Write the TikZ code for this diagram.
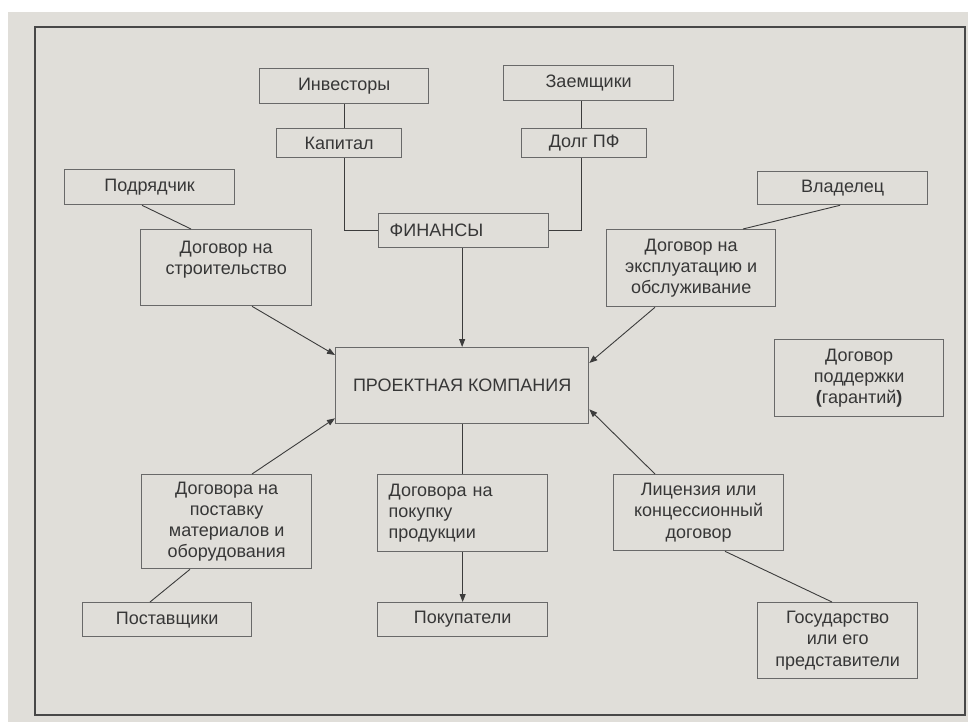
\documentclass[tikz,border=0pt]{standalone}
\usepackage{fontspec}
\setmainfont{Liberation Sans}
\usetikzlibrary{arrows.meta,positioning,calc}
\definecolor{panel}{RGB}{224,222,217}
\definecolor{framecol}{RGB}{72,72,72}
\definecolor{boxline}{RGB}{105,105,105}
\definecolor{inkcol}{RGB}{55,55,55}
\definecolor{wirecol}{RGB}{60,60,60}
\tikzset{
  every node/.style={font=\fontsize{18}{21.3}\selectfont, text=inkcol},
  box/.style={draw=boxline, line width=1.3pt, rectangle, anchor=north west, inner sep=0pt, align=center},
  leftbox/.style={box, align=left, inner xsep=11pt},
  txt/.style={inner sep=0pt, align=center},
  wire/.style={draw=wirecol, line width=0.9pt},
  arr/.style={wire, -{Triangle[length=8pt,width=6pt]}},
}
\newcommand{\bx}[6][box]{% style, name, x, y, w, h, text
  \node[#1, minimum width=#5pt, minimum height=#6pt] (#2) at (#3,#4)}
\begin{document}
\begin{tikzpicture}[x=1pt,y=-1pt]
  \useasboundingbox (0,0) rectangle (968,722);
  \fill[white] (0,0) rectangle (968,722);
  \fill[panel] (8,12) rectangle (968,722);
  \draw[framecol, line width=2.4pt] (35,27) rectangle (965,715);

  % financing side
  \bx{inv}{259}{68}{169}{35} {Инвесторы};
  \bx{kap}{276}{128}{125}{29} {Капитал};
  \bx{zaem}{503}{65}{170}{35} {Заемщики};
  \bx{dolg}{521}{128}{125}{29} {Долг ПФ};
  \bx[leftbox, text width=148pt]{fin}{378}{213}{170}{34} {ФИНАНСЫ};

  % project company
  \bx{pk}{335}{347}{253}{76} {ПРОЕКТНАЯ КОМПАНИЯ};

  % construction
  \bx{podr}{64}{169}{170}{35} {Подрядчик};
  \bx{stroi}{140}{229}{171}{76} {};
  \node[txt, anchor=north] (stroit) at ([yshift=-12pt]stroi.north) {Договор на\\строительство};

  % operation
  \bx{vlad}{757}{171}{170}{33} {Владелец};
  \bx{expl}{606}{229}{169}{77} {Договор на\\эксплуатацию и\\обслуживание};

  % support
  \bx{podd}{774}{339}{169}{77} {Договор\\поддержки\\\textbf{(}гарантий\textbf{)}};

  % licence
  \bx{lic}{613}{474}{170}{76} {Лицензия или\\концессионный\\договор};
  \bx{gos}{757}{602}{160}{76} {Государство\\или его\\представители};

  % supply
  \bx{post}{141}{474}{170}{94} {Договора на\\поставку\\материалов и\\оборудования};
  \bx{postav}{82}{602}{169}{34} {Поставщики};

  % offtake
  \bx[leftbox, text width=148pt]{pokup}{377}{474}{170}{77} {Договора на\\покупку\\продукции};
  \bx{pokupat}{377}{602}{170}{34} {Покупатели};

  % finance connectors
  \draw[wire] (inv.south) -- (inv.south |- kap.north);
  \draw[wire] (kap.south -| inv.south) |- (fin.west);
  \coordinate (dl) at ([xshift=-2.5pt]dolg.north);
  \coordinate (dls) at ([xshift=-2.5pt]dolg.south);
  \draw[wire] (dl |- zaem.south) -- (dl);
  \draw[wire] (dls) |- (fin.east);
  \draw[arr] (fin.south -| pk.north) -- (pk.north);

  % offtake connectors
  \draw[wire] (pk.south) -- (pk.south |- pokup.north);
  \draw[arr] (pokup.south) -- (pokupat.north);

  % construction connectors
  \draw[wire] ([xshift=78pt]podr.south west) -- ([xshift=51pt]stroi.north west);
  \draw[arr] ([xshift=112pt]stroi.south west) -- ([yshift=-8pt]pk.north west);

  % operation connectors
  \draw[wire] ([xshift=83pt]vlad.south west) -- ([xshift=137pt]expl.north west);
  \draw[arr] ([xshift=49pt]expl.south west) -- ([yshift=-16pt]pk.north east);

  % licence connectors
  \draw[arr] ([xshift=42pt]lic.north west) -- ([yshift=15pt]pk.south east);
  \draw[wire] ([xshift=112pt]lic.south west) -- ([xshift=75pt]gos.north west);

  % supply connectors
  \draw[arr] ([xshift=111pt]post.north west) -- ([yshift=6pt]pk.south west);
  \draw[wire] ([xshift=49pt]post.south west) -- ([xshift=68pt]postav.north west);
\end{tikzpicture}
\end{document}
